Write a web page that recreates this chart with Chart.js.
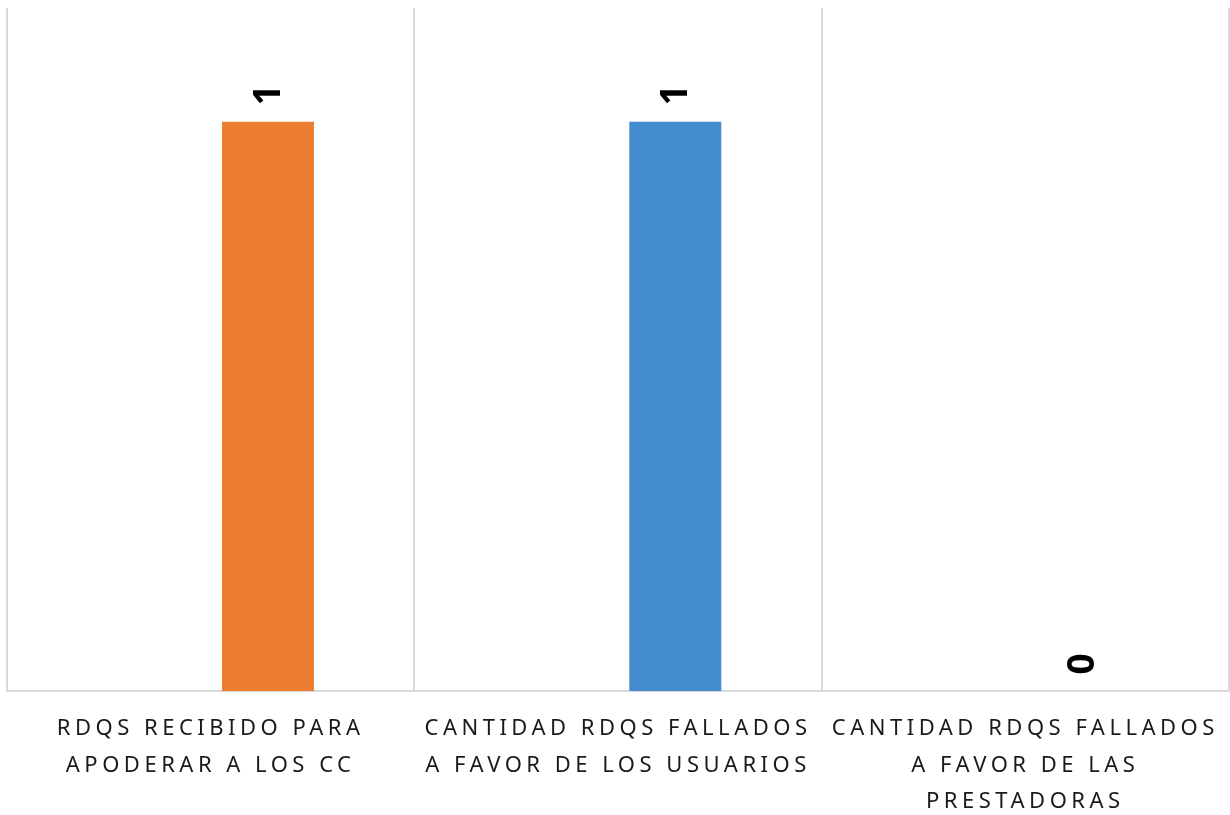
<!DOCTYPE html>
<html>
<head>
<meta charset="utf-8">
<script src="https://cdn.jsdelivr.net/npm/chart.js@4"></script>
<style>
  html, body { margin: 0; padding: 0; background: #fff; }
  #wrap { width: 1230px; height: 815px; }
</style>
</head>
<body>
<div id="wrap"><canvas id="grafico"></canvas></div>
<script>
// DATOS
const categorias = [
  ["RDQS RECIBIDO PARA", "APODERAR A LOS CC"],
  ["CANTIDAD RDQS FALLADOS", "A FAVOR DE LOS USUARIOS"],
  ["CANTIDAD RDQS FALLADOS", "A FAVOR DE LAS", "PRESTADORAS"]
];
const valores = [1, 1, 0];
const vacio = [null, null, null];
const colores = ["#ED7D31", "#448CD0", "#A5A5A5"];

// etiquetas de datos giradas
const etiquetas = {
  id: "etiquetas",
  afterDatasetsDraw(chart) {
    const ctx = chart.ctx;
    const meta = chart.getDatasetMeta(1);
    ctx.save();
    ctx.letterSpacing = "0px";
    ctx.font = "bold 37px 'Noto Sans'";
    ctx.fillStyle = "#000";
    ctx.textAlign = "center";
    ctx.textBaseline = "middle";
    meta.data.forEach((bar, i) => {
      ctx.save();
      ctx.translate(bar.x + 1, bar.y - 27);
      ctx.rotate(-Math.PI / 2);
      ctx.fillText(String(valores[i]), 0, 0);
      ctx.restore();
    });
    ctx.restore();
  }
};

// espaciado de letras en el eje
const espaciado = {
  id: "espaciado",
  beforeDraw(chart) { chart.ctx.letterSpacing = "4.5px"; },
  afterDraw(chart) { chart.ctx.letterSpacing = "0px"; }
};

const ctx = document.getElementById("grafico");

new Chart(ctx, {
  type: "bar",
  data: {
    labels: categorias,
    datasets: [
      { data: vacio, backgroundColor: "rgba(0,0,0,0)" },
      { data: valores, backgroundColor: colores }
    ]
  },
  options: {
    responsive: true,
    maintainAspectRatio: false,
    animation: false,
    categoryPercentage: 0.5627,
    barPercentage: 0.803,
    layout: { padding: { left: 7, right: 1, top: 8, bottom: 0 } },
    plugins: {
      legend: { display: false },
      tooltip: { enabled: false }
    },
    scales: {
      y: {
        display: false,
        min: 0,
        max: 1.2
      },
      x: {
        grid: {
          color: "#d9d9d9",
          lineWidth: 2,
          drawTicks: false
        },
        border: { color: "#d9d9d9", width: 2 },
        ticks: {
          color: "#1a1a1a",
          padding: 20,
          maxRotation: 0,
          autoSkip: false,
          font: { family: "'Noto Sans'", size: 22, lineHeight: 1.65 }
        },
        afterFit(scale) { scale.height = 124; }
      }
    }
  },
  plugins: [etiquetas, espaciado]
});
</script>
</body>
</html>
